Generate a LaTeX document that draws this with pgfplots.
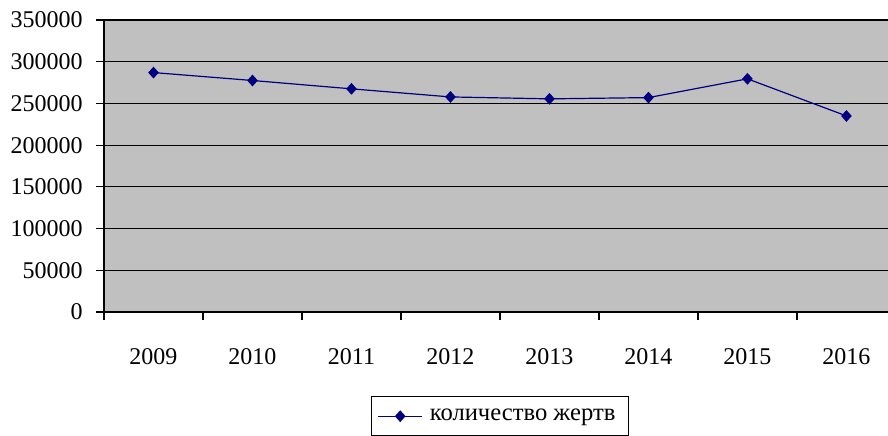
\documentclass[border=0pt]{standalone}
\usepackage{fontspec}
\setmainfont{Liberation Serif}
\usepackage{pgfplots}
\pgfplotsset{compat=1.18}
\definecolor{bggray}{RGB}{192,192,192}
\definecolor{navyline}{RGB}{0,0,128}

\begin{document}
\fontsize{12}{14}\selectfont
\begin{tikzpicture}
\begin{axis}[
    at={(0,0)}, anchor=south west,
    scale only axis,
    width=392pt, height=146pt,
    xmin=-0.5, xmax=7.42,
    ymin=0, ymax=350000,
    axis background/.style={fill=bggray},
    axis x line*=bottom,
    axis y line*=left,
    axis line style={-, black, line width=0.6pt},
    xtick={0,1,2,3,4,5,6,7},
    xticklabels={2009,2010,2011,2012,2013,2014,2015,2016},
    major x tick style={draw=none},
    minor xtick={-0.5,0.5,1.5,2.5,3.5,4.5,5.5,6.5},
    minor x tick style={black, line width=0.6pt},
    minor tick length=4pt,
    ytick={0,50000,100000,150000,200000,250000,300000},
    extra y ticks={350000},
    extra y tick style={grid style={gray, line width=0.6pt}},
    y tick style={black, line width=0.6pt},
    major tick length=4pt,
    tick align=outside,
    xtick pos=bottom, ytick pos=left,
    ymajorgrids,
    major grid style={black, line width=0.6pt},
    scaled y ticks=false,
    /pgf/number format/fixed,
    /pgf/number format/precision=0,
    /pgf/number format/1000 sep={},
    /pgf/number format/assume math mode=true,
    yticklabel={\pgfmathprintnumber{\tick}},
    yticklabel style={anchor=east, xshift=-2.5pt, font=\rmfamily},
    xticklabel style={anchor=north, yshift=-10pt, font=\rmfamily},
    legend style={
        at={(0.3406,-0.2877)}, anchor=north west,
        draw=black, line width=0.6pt, fill=white,
        inner xsep=3pt, inner ysep=4pt,
        legend cell align=left,
        font=\rmfamily\fontsize{12.3}{14}\selectfont,
        nodes={inner xsep=3.5pt},
    },
    legend image code/.code={
        \draw[#1, line width=0.6pt, mark repeat=2, mark phase=2]
            plot coordinates {(0pt,0pt) (11pt,0pt) (22pt,0pt)};
    },
]
\addplot[color=navyline, line width=0.6pt, mark=diamond*,
         mark size=2.5pt, mark options={fill=navyline, xscale=1.2}]
    coordinates {
    (0,287000) (1,277500) (2,267500) (3,257800)
    (4,255500) (5,257000) (6,279500) (7,235000)
};
\addlegendentry{количество жертв}
\end{axis}
\pgfresetboundingbox
\useasboundingbox (-52pt,-61.5pt) rectangle (392pt,156pt);
\end{tikzpicture}
\end{document}
